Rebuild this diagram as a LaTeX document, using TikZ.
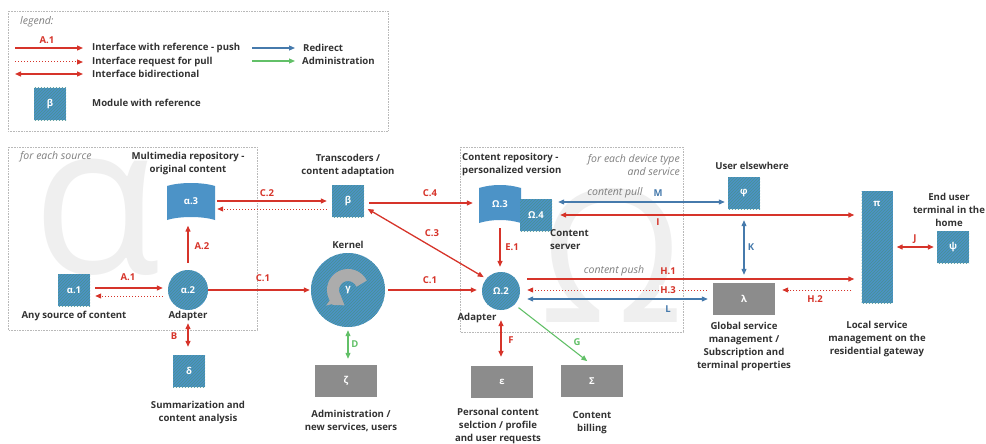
\documentclass[tikz,border=0pt]{standalone}
\usepackage{fontspec}
\setmainfont{Open Sans}
\usepackage{xcolor}
\usetikzlibrary{arrows.meta,patterns}

\definecolor{modblue}{RGB}{76,147,199}
\definecolor{modstripe}{RGB}{70,145,125}
\definecolor{boxgrey}{RGB}{140,140,140}
\definecolor{spingrey}{RGB}{172,172,172}
\definecolor{ifred}{RGB}{214,52,42}
\definecolor{redirblue}{RGB}{70,122,172}
\definecolor{admgreen}{RGB}{98,192,104}
\definecolor{captext}{RGB}{50,50,50}
\definecolor{notegrey}{RGB}{125,125,125}
\definecolor{markgrey}{RGB}{239,239,239}

\tikzset{
  module/.style={fill=modblue, postaction={pattern=north east lines, pattern color=modstripe!75!modblue},
    text=white, font=\bfseries\fontsize{9.5}{11}\selectfont, minimum size=32pt, inner sep=0pt},
  adapter/.style={module, circle, minimum size=40pt},
  repo/.style={text=white, font=\bfseries\fontsize{9.5}{11}\selectfont, inner sep=0pt},
  greybox/.style={fill=boxgrey, text=white, font=\bfseries\fontsize{9.5}{11}\selectfont,
    minimum width=62pt, minimum height=32pt, inner sep=0pt},
  caption/.style={text=captext, font=\bfseries\fontsize{9.6}{13}\selectfont, align=center, inner sep=0pt},
  note/.style={text=notegrey, font=\itshape\fontsize{10.5}{13}\selectfont, inner sep=0pt},
  lbl/.style={font=\bfseries\fontsize{9.5}{11}\selectfont, inner sep=1pt},
  redlbl/.style={lbl, text=ifred},
  bluelbl/.style={lbl, text=redirblue},
  greenlbl/.style={lbl, text=admgreen},
  frame/.style={draw=gray!55, densely dotted, line width=0.6pt},
  tip/.tip={Triangle[length=6pt,width=5pt]},
  push/.style={draw=ifred, line width=1.3pt, -tip},
  pull/.style={draw=ifred, line width=1pt, dotted, -tip},
  bidir/.style={draw=ifred, line width=1.3pt, tip-tip},
  redir/.style={draw=redirblue, line width=1.1pt, -tip},
  redirbidir/.style={draw=redirblue, line width=1.1pt, tip-tip},
  admin/.style={draw=admgreen, line width=1.1pt, -tip},
  adminbidir/.style={draw=admgreen, line width=1.1pt, tip-tip},
  watermark/.style={text=markgrey, inner sep=0pt}
}

\begin{document}
\begin{tikzpicture}[x=1pt,y=-1pt]
\useasboundingbox (0,0) rectangle (986,444);

% legend
\draw[frame] (8,11) rectangle (388,131);
\node[note, anchor=west] (lgtitle) at (20,22) {legend:};
\node[caption, anchor=west] (lgpush) at (92,48) {Interface with reference - push};
\node[caption, anchor=west] (lgpull) at (92,62) {Interface request for pull};
\node[caption, anchor=west] (lgbidir) at (92,74) {Interface bidirectional};
\node[caption, anchor=west] (lgredir) at (303,48) {Redirect};
\node[caption, anchor=west] (lgadmin) at (302,61) {Administration};
\node[module] (lgmod) at (50,104) {β};
\node[caption, anchor=west] (lgmodtxt) at (92,103) {Module with reference};
\coordinate (lg1) at (15,48);
\coordinate (lg2) at (15,62);
\coordinate (lg3) at (15,74);
\coordinate (lg4) at (252,48);
\coordinate (lg5) at (252,61);
\draw[push, shorten >=9pt] (lg1) -- (lgpush.west);
\node[redlbl] (lgA1) at (47,40) {A.1};
\draw[pull, shorten >=9pt] (lg2) -- (lgpull.west);
\draw[bidir, shorten >=9pt] (lg3) -- (lgbidir.west);
\draw[redir, shorten >=8pt] (lg4) -- (lgredir.west);
\draw[admin, shorten >=7pt] (lg5) -- (lgadmin.west);

% source block
\begin{scope}
  \clip (8,147) rectangle (257,330);
  \node[watermark, font=\fontsize{210}{210}\selectfont, anchor=base] (alphamark) at (97,273) {α};
\end{scope}
\draw[frame] (8,147) rectangle (257,330);
\node[note, anchor=west] (srcnote) at (20,157) {for each source};

% device block
\begin{scope}
  \clip (460,147) rectangle (683,332);
  \node[watermark, font=\fontsize{185}{185}\selectfont, anchor=base] (omegamark) at (612,322) {Ω};
\end{scope}
\draw[frame] (460,147) rectangle (683,332);

% modules
\node[module] (a1) at (74,290) {α.1};
\node[adapter] (a2) at (188,290) {α.2};
\fill[modblue] (167,186) .. controls (180,182) and (202,182) .. (215,186) -- (215,220)
  .. controls (202,216) and (180,216) .. (167,220) -- cycle;
\node[repo, minimum width=48pt, minimum height=37pt] (a3) at (191,201) {α.3};
\node[module] (delta) at (189,371) {δ};
\node[module] (beta) at (348,201) {β};
\node[module, circle, minimum size=74pt] (kern) at (348,290) {};
\draw[spingrey, line width=12pt, -{Triangle[width=20pt,length=9pt]}]
  (kern.center) ++(-25:15) arc (-25:-235:15);
\node[repo] (gam) at (kern.center) {γ};
\node[greybox] (zeta) at (346,381) {ζ};
\fill[modblue] (479,188) .. controls (492,184) and (508,184) .. (521,188) -- (521,223)
  .. controls (508,219) and (492,219) .. (479,223) -- cycle;
\node[repo, minimum width=42pt, minimum height=38pt] (o3) at (500,204) {Ω.3};
\node[module] (o4) at (536,215) {Ω.4};
\node[adapter, minimum size=38pt] (o2) at (501,291) {Ω.2};
\node[greybox] (eps) at (502,382) {ε};
\node[greybox] (sigma) at (592,381) {Σ};
\node[module] (phi) at (744,193) {φ};
\node[greybox] (lambda) at (744,299) {λ};
\node[module, minimum width=31pt, minimum height=112pt] (pi) at (877,247) {};
\node[repo] (pilbl) at (877,204) {π};
\node[module] (psi) at (953,247) {ψ};

% captions
\node[caption] (a3cap) at (188,164) {Multimedia repository -\\original content};
\node[caption] (a1cap) at (74,316) {Any source of content};
\node[caption] (a2cap) at (188,316) {Adapter};
\node[caption] (deltacap) at (198,413) {Summarization and\\content analysis};
\node[caption] (betacap) at (348,166) {Transcoders /\\content adaptation};
\node[caption] (kerncap) at (348,245) {Kernel};
\node[caption] (zetacap) at (351,421) {Administration /\\new services, users};
\node[caption, anchor=west, align=left] (o3cap) at (462,165) {Content repository -\\personalized version};
\node[note, anchor=east, align=right] (devnote) at (680,165) {for each device type\\and service};
\node[caption, anchor=west, align=left] (o4cap) at (550,240) {Content\\server};
\node[caption] (o2cap) at (477,318) {Adapter};
\node[caption] (epscap) at (498,426) {Personal content\\selction / profile\\and user requests};
\node[caption] (sigmacap) at (592,423) {Content\\billing};
\node[caption] (phicap) at (752,166) {User elsewhere};
\node[caption] (lambdacap) at (744,347) {Global service\\management /\\Subscription and\\terminal properties};
\node[caption] (picap) at (877,339) {Local service\\management on the\\residential gateway};
\node[caption] (psicap) at (949,210) {End user\\terminal in the\\home};

% interfaces
\draw[push, shorten <=5pt, shorten >=5pt] ([yshift=2pt]a1.east) -- ([yshift=2pt]a1.east -| a2.west);
\draw[pull, shorten <=5pt, shorten >=5pt] ([yshift=-6pt]a1.east -| a2.west) -- ([yshift=-6pt]a1.east);
\draw[push, shorten <=7pt, shorten >=6pt] (a2.north) -- (a2.north |- a3.south);
\draw[bidir, shorten <=13pt, shorten >=8pt] (a2.south) -- (a2.south |- delta.north);
\draw[push, shorten >=1pt] (a2.east) -- (kern.west);
\draw[push, shorten <=2pt, shorten >=5pt] (a3.east) -- (a3.east -| beta.west);
\draw[pull, shorten <=5pt, shorten >=2pt] ([yshift=-8pt]beta.west) -- ([yshift=-8pt]beta.west -| a3.east);
\draw[push, shorten <=5pt, shorten >=6pt] ([yshift=-2pt]beta.east) -- ([yshift=-2pt]beta.east -| o3.west);
\draw[bidir, shorten <=4pt, shorten >=3pt] (beta.-20) -- (o2.140);
\draw[push, shorten <=3pt, shorten >=5pt] (kern.east) -- (kern.east -| o2.west);
\draw[adminbidir, shorten <=3pt, shorten >=6pt] (kern.south) -- (kern.south |- zeta.north);
\draw[push, shorten <=5pt, shorten >=5pt] (o3.south) -- (o3.south |- o2.north);
\draw[bidir, shorten <=10pt, shorten >=9pt] (o2.south) -- (o2.south |- eps.north);
\draw[admin, shorten <=5pt, shorten >=6pt] (o2.-45) -- (sigma.north);
\draw[redirbidir, shorten <=3pt, shorten >=6pt] ([yshift=-9pt]phi.west) -- ([yshift=-9pt]phi.west -| o4.east);
\draw[bidir, shorten <=8pt, shorten >=7pt] (o4.east) -- (o4.east -| pi.west);
\draw[redirbidir, shorten <=11pt, shorten >=8pt] (phi.south) -- (lambda.north);
\draw[push, shorten <=7pt, shorten >=7pt] ([yshift=12pt]o2.east) -- ([yshift=12pt]o2.east -| pi.west);
\draw[pull, shorten <=6pt, shorten >=7pt] ([yshift=9pt]lambda.west) -- ([yshift=9pt]lambda.west -| o2.east);
\draw[pull, shorten <=10pt, shorten >=7pt] ([yshift=9pt]lambda.east -| pi.west) -- ([yshift=9pt]lambda.east);
\draw[redirbidir, shorten <=7pt, shorten >=5pt] (o2.east |- lambda.west) -- (lambda.west);
\draw[bidir, shorten <=4pt, shorten >=3pt] (pi.east) -- (psi.west);

% interface labels
\node[redlbl] (lA1) at (128,277) {A.1};
\node[redlbl] (lA2) at (202,246) {A.2};
\node[redlbl] (lB) at (174,336) {B};
\node[redlbl] (lC1a) at (263,278) {C.1};
\node[redlbl] (lC2) at (267,193) {C.2};
\node[redlbl] (lC4) at (430,193) {C.4};
\node[redlbl] (lC3) at (432,233) {C.3};
\node[redlbl] (lC1b) at (430,280) {C.1};
\node[greenlbl] (lD) at (355,344) {D};
\node[redlbl] (lE1) at (512,247) {E.1};
\node[redlbl] (lF) at (511,340) {F};
\node[greenlbl] (lG) at (577,342) {G};
\node[note] (pullnote) at (615,193) {content pull};
\node[bluelbl] (lM) at (658,193) {M};
\node[redlbl] (lI) at (658,222) {I};
\node[note] (pushnote) at (614,271) {content push};
\node[redlbl] (lH1) at (668,271) {H.1};
\node[redlbl, fill=white] (lH3) at (668,290) {H.3};
\node[redlbl] (lH2) at (815,299) {H.2};
\node[bluelbl] (lL) at (668,309) {L};
\node[bluelbl] (lK) at (751,247) {K};
\node[redlbl] (lJ) at (915,239) {J};
\end{tikzpicture}
\end{document}
